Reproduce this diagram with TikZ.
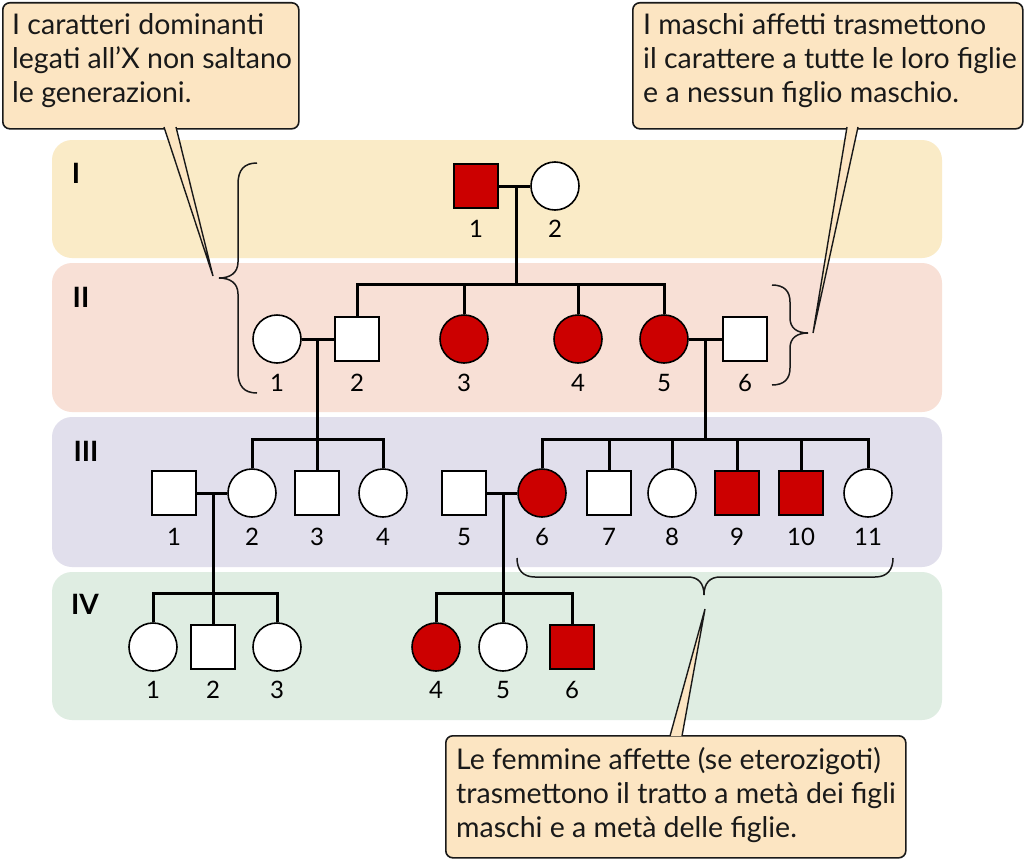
\documentclass[tikz,border=0pt]{standalone}
\usepackage{fontspec}
\setmainfont{Lato}
\begin{document}
\begin{tikzpicture}[x=1pt,y=-1pt,
  band/.style={rounded corners=20pt,draw=none},
  male/.style={draw=black,line width=1.6pt,fill=white,rectangle,minimum size=44pt,inner sep=0pt},
  female/.style={draw=black,line width=1.6pt,fill=white,circle,minimum size=48pt,inner sep=0pt},
  aff/.style={fill=affred},
  num/.style={font=\fontsize{24}{26}\selectfont,inner sep=0pt},
  gen/.style={font=\fontsize{28}{30}\selectfont\bfseries,inner sep=0pt},
  ped/.style={line width=3pt},
  brc/.style={line width=1.5pt,draw=black!90},
  callout/.style={draw=black!90,line width=1.6pt,fill=callbg,rounded corners=7pt},
  ptr/.style={draw=black!90,line width=1.4pt,fill=callbg,line join=miter},
  ctext/.style={font=\fontsize{28.5}{34}\selectfont,align=left,anchor=base west,inner sep=0pt,text=black!90}
]
\definecolor{affred}{HTML}{CC0000}
\definecolor{bandI}{HTML}{FAEBC7}
\definecolor{bandII}{HTML}{F8E0D6}
\definecolor{bandIII}{HTML}{E1DFEC}
\definecolor{bandIV}{HTML}{DFEDE2}
\definecolor{callbg}{HTML}{FCE5C2}
\useasboundingbox (0,0) rectangle (1024,859);
\fill[white] (0,0) rectangle (1024,859);
% bands
\fill[band,bandI] (52,140) rectangle (942,258);
\fill[band,bandII] (52,263) rectangle (942,412);
\fill[band,bandIII] (52,417) rectangle (942,567);
\fill[band,bandIV] (52,572) rectangle (942,720);
\node[gen] (gI) at (76,173) {I};
\node[gen] (gII) at (81,297) {II};
\node[gen] (gIII) at (86,451) {III};
\node[gen] (gIV) at (85,604) {IV};
% coordinates for lines
\coordinate (mI) at (516,186);
\coordinate (sibII) at (516,284);
\coordinate (mIIa) at (317,339);
\coordinate (sibIIIa) at (317,439);
\coordinate (mIIb) at (705,339);
\coordinate (sibIIIb) at (705,439);
\coordinate (mIIIa) at (213,493);
\coordinate (sibIVa) at (213,593);
\coordinate (mIIIb) at (503,493);
\coordinate (sibIVb) at (503,593);
% generation I
\node[male,aff] (I1) at (476,186) {};
\node[female] (I2) at (555,186) {};
% generation II
\node[female] (II1) at (277,339) {};
\node[male] (II2) at (357,339) {};
\node[female,aff] (II3) at (464,339) {};
\node[female,aff] (II4) at (578,339) {};
\node[female,aff] (II5) at (664,339) {};
\node[male] (II6) at (745,339) {};
% generation III
\node[male] (III1) at (174,493) {};
\node[female] (III2) at (252,493) {};
\node[male] (III3) at (317,493) {};
\node[female] (III4) at (383,493) {};
\node[male] (III5) at (464,493) {};
\node[female,aff] (III6) at (542,493) {};
\node[male] (III7) at (609,493) {};
\node[female] (III8) at (672,493) {};
\node[male,aff] (III9) at (737,493) {};
\node[male,aff] (III10) at (801,493) {};
\node[female] (III11) at (868,493) {};
% generation IV
\node[female] (IV1) at (153,647) {};
\node[male] (IV2) at (213,647) {};
\node[female] (IV3) at (277,647) {};
\node[female,aff] (IV4) at (436,647) {};
\node[female] (IV5) at (503,647) {};
\node[male,aff] (IV6) at (572,647) {};
% lines
\draw[ped] (I1) -- (I2);
\draw[ped] (mI) -- (sibII);
\draw[ped] (II2.north) |- (sibII) -| (II5.north);
\draw[ped] (II3.north) -- (II3.north |- sibII);
\draw[ped] (II4.north) -- (II4.north |- sibII);
\draw[ped] (II1) -- (II2);
\draw[ped] (mIIa) -- (sibIIIa);
\draw[ped] (III2.north) |- (sibIIIa) -| (III4.north);
\draw[ped] (III3.north) -- (sibIIIa);
\draw[ped] (II5) -- (II6);
\draw[ped] (mIIb) -- (sibIIIb);
\draw[ped] (III6.north) |- (sibIIIb) -| (III11.north);
\draw[ped] (III7.north) -- (III7.north |- sibIIIb);
\draw[ped] (III8.north) -- (III8.north |- sibIIIb);
\draw[ped] (III9.north) -- (III9.north |- sibIIIb);
\draw[ped] (III10.north) -- (III10.north |- sibIIIb);
\draw[ped] (III1) -- (III2);
\draw[ped] (mIIIa) -- (sibIVa);
\draw[ped] (IV1.north) |- (sibIVa) -| (IV3.north);
\draw[ped] (IV2.north) -- (sibIVa);
\draw[ped] (III5) -- (III6);
\draw[ped] (mIIIb) -- (sibIVb);
\draw[ped] (IV4.north) |- (sibIVb) -| (IV6.north);
\draw[ped] (IV5.north) -- (sibIVb);
% numbers
\node[num] (nI1) at (476,229) {1};
\node[num] (nI2) at (555,229) {2};
\node[num] (nII1) at (277,383) {1};
\node[num] (nII2) at (357,383) {2};
\node[num] (nII3) at (464,383) {3};
\node[num] (nII4) at (578,383) {4};
\node[num] (nII5) at (664,383) {5};
\node[num] (nII6) at (745,383) {6};
\node[num] (nIII1) at (174,537) {1};
\node[num] (nIII2) at (252,537) {2};
\node[num] (nIII3) at (317,537) {3};
\node[num] (nIII4) at (383,537) {4};
\node[num] (nIII5) at (464,537) {5};
\node[num] (nIII6) at (542,537) {6};
\node[num] (nIII7) at (609,537) {7};
\node[num] (nIII8) at (672,537) {8};
\node[num] (nIII9) at (737,537) {9};
\node[num] (nIII10) at (801,537) {10};
\node[num] (nIII11) at (868,537) {11};
\node[num] (nIV1) at (153,690) {1};
\node[num] (nIV2) at (213,690) {2};
\node[num] (nIV3) at (277,690) {3};
\node[num] (nIV4) at (436,690) {4};
\node[num] (nIV5) at (503,690) {5};
\node[num] (nIV6) at (572,690) {6};
% braces
\draw[brc] (257,163) .. controls (244,163) and (238,170) .. (238,184) -- (238,262)
  .. controls (238,273) and (230,278) .. (219,278)
  .. controls (230,278) and (238,283) .. (238,294) -- (238,372)
  .. controls (238,386) and (244,393) .. (257,393);
\draw[brc] (772,285) .. controls (784,285) and (790,291) .. (790,302) -- (790,318)
  .. controls (790,328) and (797,333) .. (808,333)
  .. controls (797,333) and (790,338) .. (790,348) -- (790,368)
  .. controls (790,379) and (784,385) .. (772,385);
\draw[brc] (517,558) .. controls (517,570) and (523,577) .. (535,577) -- (688,577)
  .. controls (698,577) and (704,583) .. (704,595)
  .. controls (704,583) and (710,577) .. (720,577) -- (875,577)
  .. controls (887,577) and (893,570) .. (893,558);
% callouts
\node[callout,minimum width=296pt,minimum height=126pt,anchor=north west,inner sep=0pt] (c1) at (2,2) {};
\node[ctext] (t1) at (12,102) {I caratteri dominanti\\legati all’X non saltano\\le generazioni.};
\coordinate (tip1) at (213,276);
\draw[ptr] (164,127) -- (tip1) -- (176,127);
\node[callout,minimum width=390pt,minimum height=126pt,anchor=north west,inner sep=0pt] (c2) at (632,2) {};
\node[ctext] (t2) at (643,102) {I maschi affetti trasmettono\\il carattere a tutte le loro figlie\\e a nessun figlio maschio.};
\coordinate (tip2) at (813,333);
\draw[ptr] (847,127) -- (tip2) -- (858,127);
\node[callout,minimum width=460pt,minimum height=122pt,anchor=north west,inner sep=0pt] (c3) at (445,735) {};
\node[ctext] (t3) at (456,837) {Le femmine affette (se eterozigoti)\\trasmettono il tratto a metà dei figli\\maschi e a metà delle figlie.};
\coordinate (tip3) at (705,609);
\draw[ptr] (670,736) -- (tip3) -- (682,736);
\end{tikzpicture}
\end{document}
